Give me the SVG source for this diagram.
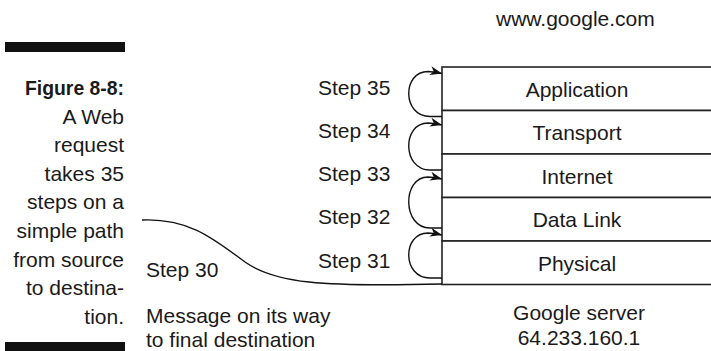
<svg xmlns="http://www.w3.org/2000/svg" width="711" height="351" viewBox="0 0 711 351">
<defs>
<style>
text{font-family:"Liberation Sans",Arial,sans-serif;font-size:21px;fill:#1a1a1a}
.b{font-weight:bold}
.r{text-anchor:end}
.c{text-anchor:middle}
.layer{fill:#fff;stroke:#222;stroke-width:1.6}
.arc{fill:none;stroke:#111;stroke-width:1.4}
</style>
<marker id="ah" markerUnits="userSpaceOnUse" markerWidth="14" markerHeight="10" refX="12" refY="4.5" orient="auto">
<path d="M0,0 L12,4.5 L0,9 L3.5,4.5 z" fill="#111"/>
</marker>
</defs>
<rect width="711" height="351" fill="#fff"/>
<g id="caption">
<rect x="5" y="42" width="120" height="10" fill="#111"/>
<rect x="5" y="342" width="120" height="9" fill="#111"/>
<text class="r b" x="124" y="95" textLength="99" lengthAdjust="spacingAndGlyphs">Figure 8-8:</text>
<text class="r" x="124" y="123.6">A Web</text>
<text class="r" x="124" y="152.2">request</text>
<text class="r" x="124" y="180.8">takes 35</text>
<text class="r" x="124" y="209.4">steps on a</text>
<text class="r" x="124" y="238">simple path</text>
<text class="r" x="124" y="266.6">from source</text>
<text class="r" x="124" y="295.2">to destina-</text>
<text class="r" x="124" y="323.8">tion.</text>
</g>
<text x="496" y="26">www.google.com</text>
<g id="application"><rect class="layer" x="442" y="67" width="272" height="43.5"/><text class="c" x="577" y="96.5">Application</text></g>
<g id="transport"><rect class="layer" x="442" y="110.5" width="272" height="43.5"/><text class="c" x="577" y="140">Transport</text></g>
<g id="internet"><rect class="layer" x="442" y="154" width="272" height="43.5"/><text class="c" x="577" y="183.5">Internet</text></g>
<g id="datalink"><rect class="layer" x="442" y="197.5" width="272" height="43.5"/><text class="c" x="577" y="227">Data Link</text></g>
<g id="physical"><rect class="layer" x="442" y="241" width="272" height="43.5"/><text class="c" x="577" y="270.5">Physical</text></g>
<g id="server-label">
<text class="c" x="579" y="320">Google server</text>
<text class="c" x="579" y="345">64.233.160.1</text>
</g>
<g id="step-labels">
<text x="318" y="95">Step 35</text>
<text x="318" y="138">Step 34</text>
<text x="318" y="181">Step 33</text>
<text x="318" y="224">Step 32</text>
<text x="318" y="268">Step 31</text>
<text x="146" y="277">Step 30</text>
<text x="146" y="323">Message on its way</text>
<text x="146" y="347">to final destination</text>
</g>
<g id="connectors">
<path class="arc" d="M142,220 C190,218 215,240 245,262 C275,283 320,287 442,284"/>
<path class="arc" marker-end="url(#ah)" d="M442,116.5 H430 C402,116.5 402,71.5 428,71.5 Q436,72 442,73.5"/>
<path class="arc" marker-end="url(#ah)" d="M442,170 H430 C402,170 402,123 428,123 Q436,123.5 442,125"/>
<path class="arc" marker-end="url(#ah)" d="M442,228 H430 C402,228 402,177 428,177 Q436,177.5 442,179"/>
<path class="arc" marker-end="url(#ah)" d="M442,278 H430 C402,278 402,233 428,233 Q436,233.5 442,235"/>
</g>
</svg>
